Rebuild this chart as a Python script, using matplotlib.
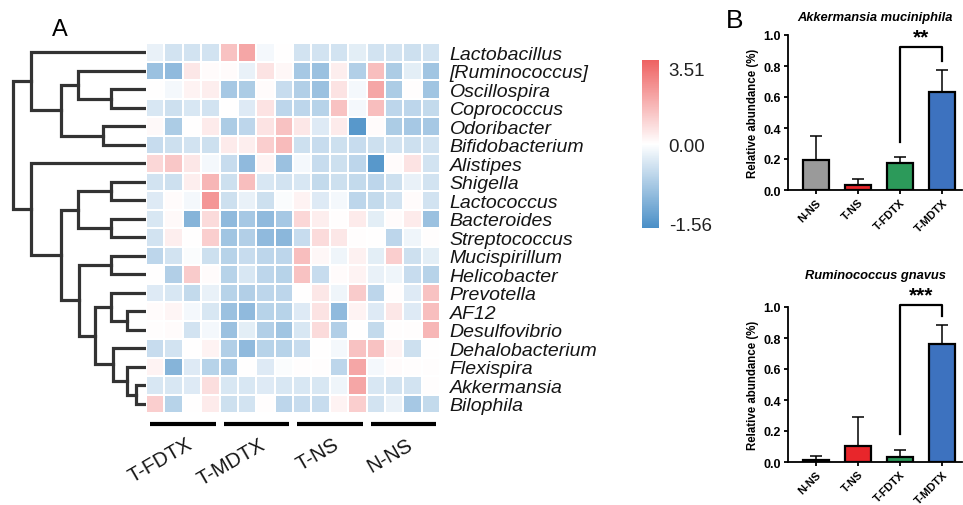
import numpy as np
import matplotlib
matplotlib.use("Agg")
import matplotlib.pyplot as plt
from matplotlib.colors import LinearSegmentedColormap, TwoSlopeNorm

plt.rcParams['font.family'] = ['Liberation Sans', 'DejaVu Sans']

# ---- panel A data ----
genera = ["Lactobacillus", "[Ruminococcus]", "Oscillospira", "Coprococcus",
          "Odoribacter", "Bifidobacterium", "Alistipes", "Shigella",
          "Lactococcus", "Bacteroides", "Streptococcus", "Mucispirillum",
          "Helicobacter", "Prevotella", "AF12", "Desulfovibrio",
          "Dehalobacterium", "Flexispira", "Akkermansia", "Bilophila"]
groups = ["T-FDTX", "T-MDTX", "T-NS", "N-NS"]
n_per_group = 4

zscores = np.array([
    [-0.2, -0.4, -0.4, -0.4, 1.5, 2.2, -0.1, 0.0, -0.4, -0.4, -0.4, -0.25, -0.4, -0.4, -0.45, -0.4],
    [-0.9, -1.0, 0.6, 0.1, 0.1, -0.2, 0.7, 0.2, -0.8, -0.9, 0.4, -0.7, 1.6, -0.75, -0.25, -0.85],
    [0.0, -0.1, 0.3, 0.4, -0.8, -0.75, 0.1, -0.5, -0.7, -0.9, 0.7, -0.1, 2.2, -0.75, 0.05, -0.85],
    [-0.35, -0.45, -0.35, -0.4, 0.0, -0.3, 0.7, -0.6, -0.6, -0.65, 1.5, -0.1, 1.6, -0.6, -0.6, -0.55],
    [0.15, -0.75, 0.0, 0.5, -0.75, -0.6, 0.7, 1.5, 0.6, -0.3, 0.5, -1.5, 0.1, -0.75, -0.8, -0.8],
    [-0.5, -0.45, -0.4, -0.45, 0.5, 0.4, 1.2, 1.7, -0.45, -0.5, -0.45, -0.5, -0.45, -0.4, -0.45, -0.4],
    [1.0, 1.4, 0.6, -0.1, -0.5, -1.0, 0.3, -0.9, -0.1, -0.5, -0.45, -0.6, -1.5, 0.1, 0.7, -0.4],
    [-0.4, -0.45, 0.4, 1.8, -0.45, 1.6, -0.35, -0.4, -0.35, -0.55, -0.45, -0.55, -0.6, -0.45, -0.2, -0.4],
    [-0.3, 0.1, -0.1, 2.6, -0.45, -0.2, -0.45, -0.05, 0.3, -0.3, -0.1, -0.6, -0.55, -0.4, 0.1, -0.4],
    [-0.35, 0.15, -1.1, 0.9, -1.0, -0.8, -1.0, -0.8, 1.0, 0.4, 0.05, 0.5, -0.25, 0.1, 0.5, -0.9],
    [-0.4, 0.4, 0.0, 1.2, -0.85, -0.7, -1.0, -1.05, -0.5, 0.9, 0.6, 0.05, 0.0, -0.6, -0.15, 0.05],
    [-0.6, -0.4, -0.05, -0.45, -0.65, -0.5, -0.6, -0.6, 1.6, 0.2, -0.15, 0.35, -0.25, 1.2, -0.45, -0.25],
    [0.0, -0.7, 1.3, 0.1, -0.65, -0.35, -0.6, -0.65, 1.5, -0.5, 0.1, 0.3, -0.2, -0.15, -0.5, -0.65],
    [-0.3, -0.35, -0.55, -0.2, -0.65, -0.7, -0.6, -0.6, 0.0, 0.6, -0.15, 1.3, -0.6, 0.05, -0.3, 1.5],
    [0.1, 0.25, -0.1, -0.35, -0.9, -1.0, -0.65, -0.65, -0.3, 0.7, -1.0, 0.3, -0.3, 0.6, -0.3, 1.6],
    [0.05, 0.1, -0.4, -0.1, -0.9, -0.25, -0.7, -0.85, -0.35, 0.9, -0.7, 0.0, -0.55, 0.05, 0.05, 1.8],
    [-0.5, -0.4, 0.0, 0.3, -0.7, -1.0, -0.65, -0.65, -0.5, 0.0, -0.1, 1.5, 1.5, 0.3, -0.45, 0.0],
    [0.3, -1.1, -0.3, -0.65, -0.8, 0.0, -0.3, -0.05, 0.05, 0.05, -0.6, 2.2, -0.1, 0.1, 0.05, 0.05],
    [-0.35, -0.35, -0.3, 0.8, -0.35, -0.35, -0.3, -0.35, -0.35, -0.35, -0.15, 2.2, -0.35, -0.4, -0.4, 0.05],
    [1.2, -0.65, 0.0, 0.5, -0.45, -0.4, 0.05, -0.6, -0.5, -0.5, 0.3, 1.2, -0.4, -0.2, -0.8, -0.55],
])
cbar_ticks = [-1.56, 0.00, 3.51]

# row dendrogram: (child a, child b, height); new clusters get ids 20, 21, ...
merges = [(14, 15, 0.14), (18, 19, 0.075), (17, 21, 0.14), (2, 3, 0.26),
          (4, 5, 0.32), (7, 8, 0.26), (9, 10, 0.26), (11, 12, 0.26),
          (13, 20, 0.26), (16, 22, 0.25), (28, 29, 0.386), (27, 30, 0.50),
          (25, 26, 0.51), (32, 31, 0.64), (6, 33, 0.863), (1, 23, 0.51),
          (35, 24, 0.64), (0, 36, 0.863), (37, 34, 1.0)]

# ---- panel B data ----
bar_groups = ["N-NS", "T-NS", "T-FDTX", "T-MDTX"]
bar_colors = ["#9a9a9a", "#e8262b", "#2c9a5a", "#3d72bf"]
akk_mean = [0.196, 0.032, 0.172, 0.63]
akk_err = [0.152, 0.039, 0.038, 0.146]
rum_mean = [0.015, 0.105, 0.03, 0.76]
rum_err = [0.025, 0.185, 0.05, 0.124]
akk_bracket = [0.31, 0.92, 0.835]   # left foot, top, right foot
rum_bracket = [0.18, 1.01, 0.94]
akk_star, rum_star = "**", "***"

W, H = 963, 506
fig = plt.figure(figsize=(W / 100, H / 100), dpi=100)

def box(x0, y0, x1, y1):
    return [x0 / W, 1 - y1 / H, (x1 - x0) / W, (y1 - y0) / H]

# heatmap
cmap = LinearSegmentedColormap.from_list("bwr2", ["#4a8fc7", "#ffffff", "#ee6262"])
norm = TwoSlopeNorm(vmin=-1.64, vcenter=0, vmax=3.9)
nrow, ncol = zscores.shape

ax = fig.add_axes(box(146, 44, 440, 414))
mesh = ax.pcolormesh(np.arange(ncol + 1), np.arange(nrow + 1), zscores,
                     cmap=cmap, norm=norm, edgecolors="white", linewidth=1.2)
ax.set_xlim(0, ncol)
ax.set_ylim(nrow, 0)
ax.set_xticks([])
ax.yaxis.tick_right()
ax.set_yticks(np.arange(nrow) + 0.5)
ax.set_yticklabels(genera, fontstyle="italic", fontsize=14, color="#151515")
ax.tick_params(axis="y", length=0, pad=7)
for s in ax.spines.values():
    s.set_visible(False)

for g, name in enumerate(groups):
    c0 = g * n_per_group
    ax.plot([c0 + 0.22, c0 + n_per_group - 0.2], [20.6, 20.6], color="black",
            lw=3, clip_on=False, solid_capstyle="butt")
    ax.text(c0 + n_per_group / 2 + 0.15, 21.15, name, rotation=30, ha="right",
            va="top", rotation_mode="anchor", fontsize=14.5, color="#151515")

# dendrogram
axd = fig.add_axes(box(0, 44, 146, 414))
pos = {i: (0.0, i + 0.5) for i in range(nrow)}
for k, (a, b, h) in enumerate(merges):
    ha_, ya = pos[a]
    hb, yb = pos[b]
    axd.plot([ha_, h, h, hb], [ya, ya, yb, yb], color="#333333", lw=2.3,
             solid_joinstyle="miter")
    pos[nrow + k] = (h, (ya + yb) / 2)
axd.set_xlim(1.095, 0)
axd.set_ylim(nrow, 0)
axd.axis("off")

# colorbar
cax = fig.add_axes(box(642, 61, 659, 229))
cb = fig.colorbar(mesh, cax=cax, ticks=cbar_ticks)
cb.ax.set_yticklabels([f"{t:.2f}" for t in cbar_ticks])
cb.outline.set_visible(False)
cax.tick_params(length=0, pad=7, labelsize=13.5, labelcolor="#222222")

fig.text(60 / W, 1 - 30 / H, "A", fontsize=17, ha="center", va="center")
fig.text(735 / W, 1 - 21 / H, "B", fontsize=19, ha="center", va="center")

# bar charts
def bar_panel(rect, title, mean, err, bracket, star, tpad):
    axb = fig.add_axes(rect)
    xs = np.arange(len(bar_groups))
    axb.bar(xs, mean, width=0.64, color=bar_colors, edgecolor="black",
            linewidth=1.6, zorder=3)
    axb.errorbar(xs, mean, yerr=[np.zeros(len(err)), err], fmt="none",
                 ecolor="black", elinewidth=1.1, capsize=4.5, capthick=1.1,
                 zorder=2)
    axb.plot([2, 2, 3, 3], [bracket[0], bracket[1], bracket[1], bracket[2]],
             color="black", lw=1.6, clip_on=False)
    axb.text(2.5, bracket[1] + 0.005, star, ha="center", va="bottom",
             fontsize=15, fontweight="bold", clip_on=False)
    axb.set_xlim(-0.667, 3.476)
    axb.set_ylim(0, 1.0)
    axb.set_yticks(np.arange(0, 1.01, 0.2))
    axb.set_yticklabels([f"{v:.1f}" for v in np.arange(0, 1.01, 0.2)],
                        fontsize=9, fontweight="bold")
    axb.set_xticks(xs)
    axb.set_xticklabels(bar_groups, rotation=45, ha="right",
                        rotation_mode="anchor", fontsize=8, fontweight="bold")
    axb.spines["top"].set_visible(False)
    axb.spines["right"].set_visible(False)
    for s in ("left", "bottom"):
        axb.spines[s].set_linewidth(1.3)
    axb.tick_params(width=1.3, length=3, pad=2)
    axb.set_ylabel("Relative abundance (%)", fontsize=8.3, fontweight="bold",
                   labelpad=3)
    axb.set_title(title, fontsize=9.3, fontweight="bold", fontstyle="italic",
                  pad=tpad)
    return axb

bar_panel(box(788, 36, 962, 191), "Akkermansia muciniphila",
          akk_mean, akk_err, akk_bracket, akk_star, 11)
bar_panel(box(788, 308, 962, 463), "Ruminococcus gnavus",
          rum_mean, rum_err, rum_bracket, rum_star, 21)

fig.savefig("out.png", dpi=100)
